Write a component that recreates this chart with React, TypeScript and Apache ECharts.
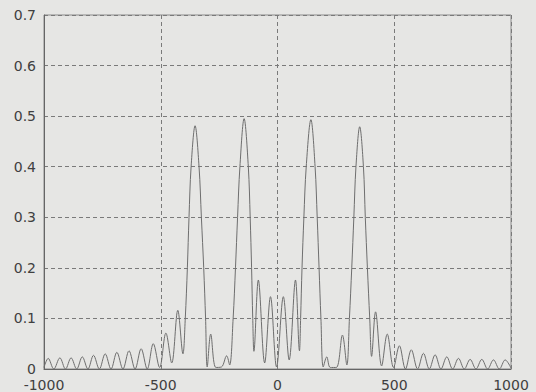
import React, { useEffect, useRef } from "react";
import * as echarts from "echarts";

// Frequency (x) and magnitude (y)
const freq: number[] = [
  -1000, -982, -958, -932, -908, -884, -860, -836, -812, -788, -763, -738, -713, -688, -662, -636,
  -610, -584, -558, -532, -505, -478, -453, -427, -405,
  -395, -386, -379, -370, -353, -336, -326, -316, -308, -301,
  -286, -264, -240, -218, -205,
  -190, -180, -171, -161, -143, -125, -117, -111, -106, -101,
  -82, -55, -30, -4, 25, 50, 77, 94,
  99, 105, 113, 123, 143, 161, 170, 178, 186, 196,
  211, 226, 252, 278, 297,
  308, 318, 327, 336, 352, 368, 376, 385, 395, 403,
  420, 446, 470, 497, 522, 548, 573, 600, 625, 650, 675, 700, 725, 750, 775, 800, 825, 850,
  875, 900, 925, 950, 975, 1000,
];
const magnitude: number[] = [
  0.003, 0.021, 0, 0.022, 0, 0.022, 0, 0.024, 0, 0.027, 0, 0.03, 0, 0.033, 0, 0.036,
  0, 0.04, 0, 0.05, 0.003, 0.071, 0.012, 0.116, 0.03,
  0.1, 0.2, 0.3, 0.4, 0.481, 0.4, 0.3, 0.2, 0.1, 0.004,
  0.069, 0.003, 0.004, 0.026, 0.008,
  0.1, 0.2, 0.3, 0.4, 0.495, 0.4, 0.3, 0.2, 0.1, 0.035,
  0.176, 0.012, 0.143, 0.004, 0.143, 0.018, 0.176, 0.036,
  0.1, 0.2, 0.3, 0.4, 0.493, 0.4, 0.3, 0.2, 0.1, 0.004,
  0.024, 0.003, 0.003, 0.067, 0.008,
  0.1, 0.2, 0.3, 0.4, 0.479, 0.4, 0.3, 0.2, 0.1, 0.025,
  0.113, 0.006, 0.069, 0.003, 0.046, 0, 0.038, 0, 0.031, 0, 0.028, 0, 0.024, 0, 0.021, 0, 0.019, 0,
  0.019, 0, 0.018, 0, 0.018, 0.002,
];

const xTicks = { min: -1000, max: 1000, interval: 500 };
const yTicks = { min: 0, max: 0.7, interval: 0.1 };

export default function App() {
  const ref = useRef<HTMLDivElement>(null);
  useEffect(() => {
    document.body.style.margin = "0";
    if (!ref.current) return;
    const chart = echarts.init(ref.current, null, { renderer: "svg" });
    const data = freq.map((x, i) => [x, magnitude[i]]);
    const labelStyle = {
      color: "#404040",
      fontFamily: "DejaVu Sans, Verdana, sans-serif",
      fontSize: 14,
    };
    const gridLine = { show: true, lineStyle: { color: "#7a7a7a", width: 1, type: [4, 3] as any } };
    chart.setOption({
      animation: false,
      backgroundColor: "#e6e6e4",
      grid: {
        left: 44,
        right: 25,
        top: 15,
        bottom: 23,
        show: true,
        borderColor: "#8a8a8a",
        borderWidth: 1,
        backgroundColor: "transparent",
      },
      xAxis: {
        type: "value",
        min: xTicks.min,
        max: xTicks.max,
        interval: xTicks.interval,
        axisLine: { show: true, onZero: false, lineStyle: { color: "#666", width: 1 } },
        axisTick: { show: false },
        axisLabel: { ...labelStyle, margin: 9, formatter: (v: number) => String(v) },
        splitLine: gridLine,
      },
      yAxis: {
        type: "value",
        min: yTicks.min,
        max: yTicks.max,
        interval: yTicks.interval,
        axisLine: { show: true, onZero: false, lineStyle: { color: "#666", width: 1 } },
        axisTick: { show: false },
        axisLabel: {
          ...labelStyle,
          margin: 8,
          formatter: (v: number) => (v === 0 ? "0" : v.toFixed(1)),
        },
        splitLine: gridLine,
      },
      series: [
        {
          type: "line",
          data,
          smooth: 0.35,
          showSymbol: false,
          symbol: "none",
          lineStyle: { color: "#6e6e6e", width: 1 },
        },
      ],
    });
    return () => chart.dispose();
  }, []);
  return <div ref={ref} style={{ width: 536, height: 392 }} />;
}
